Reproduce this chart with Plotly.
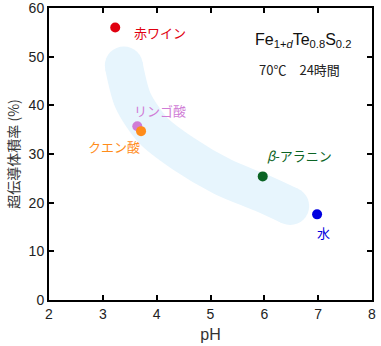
import plotly.graph_objects as go

# data
names = ["赤ワイン", "リンゴ酸", "クエン酸", "β-アラニン", "水"]
ph = [3.23, 3.64, 3.71, 5.97, 6.98]
vol = [56.0, 35.7, 34.7, 25.4, 17.6]
colors = ["#e00010", "#d07cd6", "#ff8c1a", "#0b6424", "#0000e0"]
label_text = ["赤ワイン", "リンゴ酸", "クエン酸", "<i>β</i>-アラニン", "水"]
label_x = [4.06, 4.06, 3.20, 6.65, 7.09]
label_y = [55.0, 39.0, 31.6, 29.7, 13.9]

# guide band centre line
band_x = [3.39, 3.56, 3.93, 4.49, 5.23, 5.97, 6.48]
band_y = [48.2, 41.0, 34.9, 30.1, 25.3, 21.9, 19.3]

x_ticks = [2, 3, 4, 5, 6, 7, 8]
y_ticks = [0, 10, 20, 30, 40, 50, 60]

FONT = "Liberation Sans, Arial, Noto Sans CJK JP, sans-serif"
JFONT = "Noto Sans CJK JP, sans-serif"
band_color = "#e7f5fd"

fig = go.Figure()
fig.add_trace(go.Scatter(
    x=band_x, y=band_y, mode="lines",
    line=dict(color=band_color, width=38, shape="spline", smoothing=0.8),
    hoverinfo="skip", showlegend=False))
fig.add_trace(go.Scatter(
    x=[band_x[0], band_x[-1]], y=[band_y[0], band_y[-1]], mode="markers",
    marker=dict(color=band_color, size=38, line=dict(width=0)),
    hoverinfo="skip", showlegend=False))
fig.add_trace(go.Scatter(
    x=ph, y=vol, mode="markers", text=names,
    marker=dict(color=colors, size=10, line=dict(width=0)),
    showlegend=False))

for t, lx, ly, c in zip(label_text, label_x, label_y, colors):
    fig.add_annotation(x=lx, y=ly, text=t, showarrow=False,
                       font=dict(family=JFONT, size=13, color=c),
                       xanchor="center", yanchor="middle")

fig.add_annotation(x=6.72, y=53.3,
                   text="Fe<sub>1+<i>d</i></sub>Te<sub>0.8</sub>S<sub>0.2</sub>",
                   showarrow=False, font=dict(family=FONT, size=16, color="#111"),
                   xanchor="center", yanchor="middle")
fig.add_annotation(x=6.66, y=47.4, text="70℃　24時間", showarrow=False,
                   font=dict(family=JFONT, size=13, color="#222"),
                   xanchor="center", yanchor="middle")

axis_common = dict(showline=True, linecolor="black", linewidth=2,
                   ticks="inside", ticklen=5, tickwidth=2, tickcolor="black",
                   mirror="allticks", showgrid=False, zeroline=False,
                   automargin=False, ticklabeloverflow="allow",
                   tickfont=dict(family=FONT, size=14, color="#222"))
fig.update_xaxes(range=[2, 8], tickvals=x_ticks,
                 title=dict(text="pH", font=dict(family=FONT, size=16, color="#333"), standoff=8),
                 **axis_common)
fig.update_yaxes(range=[0, 60], tickvals=y_ticks,
                 title=dict(text="超伝導体積率 (%)", font=dict(family=JFONT, size=14, color="#333"), standoff=6),
                 **axis_common)
fig.update_layout(width=381, height=346,
                  margin=dict(l=49, r=9, t=8, b=46),
                  plot_bgcolor="white", paper_bgcolor="white")
fig.write_html("out.html")
